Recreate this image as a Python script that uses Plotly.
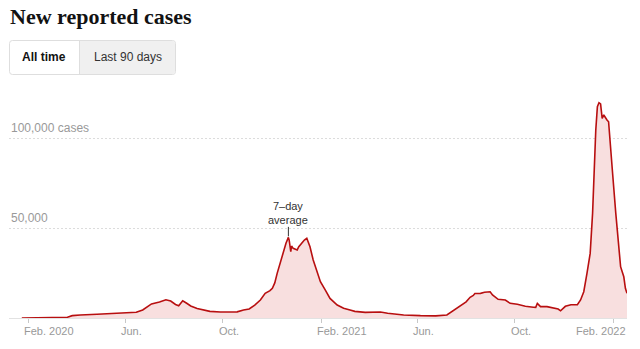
import plotly.graph_objects as go

# Daily new reported cases, 7-day average
dates = [
    "2020-01-24", "2020-02-21", "2020-03-12", "2020-03-21", "2020-03-27", "2020-04-06",
    "2020-04-27", "2020-05-17", "2020-06-03", "2020-06-15", "2020-06-23", "2020-07-04",
    "2020-07-14", "2020-07-22", "2020-07-28", "2020-08-03", "2020-08-07", "2020-08-12",
    "2020-08-17", "2020-08-22", "2020-08-30", "2020-09-07", "2020-09-15", "2020-09-28",
    "2020-10-10", "2020-10-19", "2020-10-27", "2020-11-03", "2020-11-10", "2020-11-17",
    "2020-11-23", "2020-11-29", "2020-12-02", "2020-12-05", "2020-12-08", "2020-12-12",
    "2020-12-16", "2020-12-19", "2020-12-22", "2020-12-23", "2020-12-25", "2020-12-26",
    "2020-12-28", "2021-01-02", "2021-01-04", "2021-01-08", "2021-01-11", "2021-01-14",
    "2021-01-18", "2021-01-22", "2021-01-27", "2021-01-31", "2021-02-06", "2021-02-12",
    "2021-02-21", "2021-03-01", "2021-03-09", "2021-03-15", "2021-03-28", "2021-04-12",
    "2021-04-16", "2021-04-25", "2021-05-15", "2021-06-05", "2021-06-24", "2021-07-08",
    "2021-07-14", "2021-07-20", "2021-07-25", "2021-08-01", "2021-08-06", "2021-08-10",
    "2021-08-12", "2021-08-19", "2021-08-24", "2021-08-31", "2021-09-03", "2021-09-10",
    "2021-09-19", "2021-09-25", "2021-10-04", "2021-10-14", "2021-10-24", "2021-10-27",
    "2021-10-29", "2021-11-02", "2021-11-10", "2021-11-18", "2021-11-24", "2021-11-27",
    "2021-12-03", "2021-12-10", "2021-12-18", "2021-12-22", "2021-12-26", "2021-12-30",
    "2022-01-03", "2022-01-06", "2022-01-07", "2022-01-08", "2022-01-10", "2022-01-12",
    "2022-01-14", "2022-01-16", "2022-01-18", "2022-01-20", "2022-01-22", "2022-01-24",
    "2022-01-26", "2022-01-28", "2022-01-31", "2022-02-04", "2022-02-07", "2022-02-08",
    "2022-02-10", "2022-02-12", "2022-02-14", "2022-02-16", "2022-02-18",
]
cases = [
    0, 30, 200, 450, 1300, 1700,
    2050, 2400, 2950, 3200, 4450, 7800,
    8900, 10100, 9400, 7500, 6800, 9600,
    8200, 6700, 5300, 4450, 3700, 3350,
    3300, 3400, 4450, 5000, 7200, 10000,
    13700, 15200, 16500, 19500, 24800, 31300,
    36800, 41500, 44800, 43300, 36800, 40000,
    38700, 37800, 39600, 41900, 43300, 44300,
    39600, 32200, 24800, 20200, 15600, 10900,
    7200, 5400, 4400, 3700, 3100, 2950,
    3300, 2600, 1700, 1300, 1200, 1700,
    3500, 5200, 6800, 9000, 11500, 12500,
    13600, 13700, 14300, 14600, 12800, 10400,
    10000, 8150, 7600, 6500, 5950, 5900,
    8150, 6300, 6300, 5400, 5000, 4000,
    6500, 7400, 7400, 10000, 14600, 24800,
    35900, 58100, 69300, 87800, 104400, 117400,
    119600, 118900, 110900, 112800, 111000, 110000,
    109000, 95200, 80400, 58100, 45200, 37800,
    28500, 25700, 22900, 16500, 13700,
]

# Axis ticks and labels
tick_dates = ["2020-02-01", "2020-06-01", "2020-10-01", "2021-02-01",
              "2021-06-01", "2021-10-01", "2022-02-01"]
tick_labels = ["Feb. 2020", "Jun.", "Oct.", "Feb. 2021", "Jun.", "Oct.", "Feb. 2022"]
y_ticks = [50000, 100000]
y_labels = ["50,000", "100,000 cases"]

LINE = "#b80f10"
FILL = "#f8dfdf"
SANS = "Liberation Sans, Arial, sans-serif"

W, H = 640, 349
ML, MR, MT, MB = 9, 13, 90, 31
PW, PH = W - ML - MR, H - MT - MB


def px(x):
    return (x - ML) / PW


def py(y):
    return (H - MB - y) / PH


fig = go.Figure()
fig.add_trace(go.Scatter(
    x=dates, y=cases, mode="lines",
    line=dict(color=LINE, width=1.6),
    fill="tozeroy", fillcolor=FILL,
    hoverinfo="skip",
))

fig.update_layout(
    width=W, height=H,
    margin=dict(l=ML, r=MR, t=MT, b=MB),
    paper_bgcolor="white", plot_bgcolor="white",
    showlegend=False,
    xaxis=dict(
        type="date",
        range=["2020-01-08", "2022-02-18"],
        tickvals=tick_dates, showticklabels=False,
        ticks="outside", ticklen=4, tickcolor="#c8c8c8", tickwidth=1,
        showgrid=False, zeroline=False,
        showline=True, linecolor="#e2e2e2", linewidth=1,
        layer="below traces",
    ),
    yaxis=dict(
        range=[0, 126667],
        tickvals=y_ticks, showticklabels=False,
        showgrid=True, gridcolor="#dcdcdc", griddash="2px,2px", gridwidth=1,
        zeroline=False, showline=False,
    ),
)

annotations = []

# Title
annotations.append(dict(
    text="<b>New reported cases</b>", xref="paper", yref="paper",
    x=px(8), y=py(16), xanchor="left", yanchor="middle", showarrow=False,
    font=dict(family="Liberation Serif, Times New Roman, serif", size=22, color="#121212"),
))

# Time-range toggle
annotations.append(dict(
    text="<b>All time</b>", xref="paper", yref="paper",
    x=px(44), y=py(57), xanchor="center", yanchor="middle", showarrow=False,
    font=dict(family=SANS, size=12, color="#121212"),
))
annotations.append(dict(
    text="Last 90 days", xref="paper", yref="paper",
    x=px(128), y=py(57), xanchor="center", yanchor="middle", showarrow=False,
    font=dict(family=SANS, size=12, color="#333333"),
))

# Y tick labels above the gridlines
for v, lab in zip(y_ticks, y_labels):
    annotations.append(dict(
        text=lab, xref="paper", yref="y", x=0, y=v,
        xanchor="left", yanchor="bottom", yshift=1, showarrow=False,
        font=dict(family=SANS, size=12, color="#999999"),
    ))

# X tick labels
for i, (d, lab) in enumerate(zip(tick_dates, tick_labels)):
    last = i == len(tick_dates) - 1
    annotations.append(dict(
        text=lab, xref="x" if not last else "paper", yref="paper",
        x=d if not last else 1.0, y=py(331),
        xanchor="right" if last else "left", xshift=1 if last else -6,
        yanchor="middle", showarrow=False,
        font=dict(family=SANS, size=11, color="#999999"),
    ))

# Label for the winter 2020-21 peak
first_wave = [i for i, d in enumerate(dates) if d < "2021-06-01"]
pk = max(first_wave, key=lambda i: cases[i])
annotations.append(dict(
    text="7\u2013day<br>average", x=dates[pk], y=cases[pk], xref="x", yref="y",
    showarrow=True, arrowhead=0, arrowwidth=1, arrowcolor="#333333",
    ax=0, ay=-24, standoff=1,
    font=dict(family=SANS, size=11, color="#333333"),
    bgcolor="rgba(255,255,255,0.9)", borderpad=0,
))

fig.update_layout(annotations=annotations)


def rounded_rect(x0, y0, x1, y1, r):
    # rounded rectangle in paper coordinates from pixel bounds
    X = lambda v: px(v)
    Y = lambda v: py(v)
    return (f"M {X(x0 + r)},{Y(y0)} L {X(x1 - r)},{Y(y0)} Q {X(x1)},{Y(y0)} {X(x1)},{Y(y0 + r)} "
            f"L {X(x1)},{Y(y1 - r)} Q {X(x1)},{Y(y1)} {X(x1 - r)},{Y(y1)} "
            f"L {X(x0 + r)},{Y(y1)} Q {X(x0)},{Y(y1)} {X(x0)},{Y(y1 - r)} "
            f"L {X(x0)},{Y(y0 + r)} Q {X(x0)},{Y(y0)} {X(x0 + r)},{Y(y0)} Z")


def right_rounded(x0, y0, x1, y1, r):
    X = lambda v: px(v)
    Y = lambda v: py(v)
    return (f"M {X(x0)},{Y(y0)} L {X(x1 - r)},{Y(y0)} Q {X(x1)},{Y(y0)} {X(x1)},{Y(y0 + r)} "
            f"L {X(x1)},{Y(y1 - r)} Q {X(x1)},{Y(y1)} {X(x1 - r)},{Y(y1)} "
            f"L {X(x0)},{Y(y1)} Z")


shapes = [
    dict(type="path", xref="paper", yref="paper",
         path=rounded_rect(9.5, 40.5, 175.5, 74.5, 3),
         fillcolor="white", line=dict(color="#dedede", width=1), layer="above"),
    dict(type="path", xref="paper", yref="paper",
         path=right_rounded(79.5, 41, 175, 74, 2.5),
         fillcolor="#f0f0f0", line=dict(width=0), layer="above"),
    dict(type="line", xref="paper", yref="paper",
         x0=px(79.5), x1=px(79.5), y0=py(41), y1=py(74),
         line=dict(color="#dedede", width=1), layer="above"),
]
fig.update_layout(shapes=shapes)

fig.write_html("out.html")
